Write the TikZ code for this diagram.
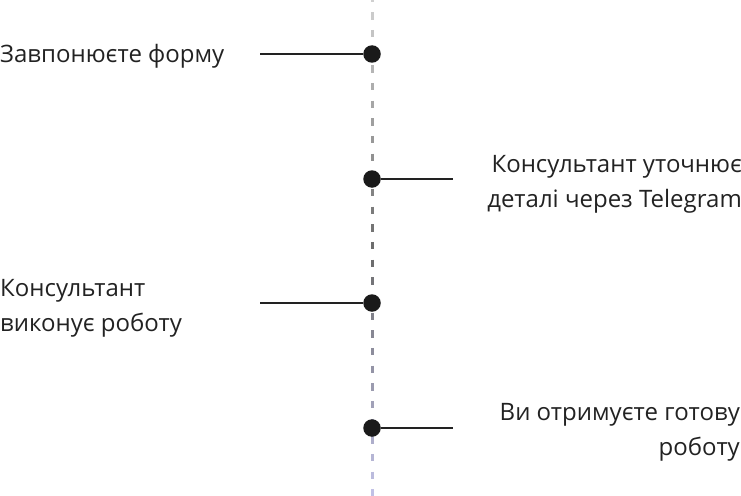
\documentclass[tikz,border=0pt]{standalone}
\usepackage{fontspec}
\setmainfont{Open Sans}
\definecolor{txt}{HTML}{222222}
\definecolor{dotc}{HTML}{1A1A1A}
\definecolor{topc}{HTML}{D0D0D0}
\definecolor{midc}{HTML}{6A6A6A}
\definecolor{botc}{HTML}{C4C4EA}
\tikzset{
  dotnode/.style={circle,fill=dotc,inner sep=0pt,minimum size=17.5pt},
  link/.style={draw=txt,line width=1.2pt},
  lbl/.style={text=txt,inner sep=0pt,font=\fontsize{24}{35}\selectfont},
}
\begin{document}
\begin{tikzpicture}[x=1pt,y=-1pt]
\useasboundingbox (0,0) rectangle (741,495);
% dashed gradient line
\foreach \k in {0,...,28}{
  \pgfmathsetmacro\ya{-5.5+17.67*\k}
  \pgfmathsetmacro\yb{\ya+7.5}
  \pgfmathtruncatemacro\p{\ya<250 ? max(0,min(100,(1-\ya/250)*100)) : max(0,min(100,(\ya-250)/245*100))}
  \ifdim\ya pt<250pt
    \colorlet{dc}{topc!\p!midc}
  \else
    \colorlet{dc}{botc!\p!midc}
  \fi
  \draw[dc,line width=3pt] (372.5,\ya) -- (372.5,\yb);
}
% dots
\node[dotnode] (d1) at (372,54) {};
\node[dotnode] (d2) at (372,179) {};
\node[dotnode] (d3) at (372,303) {};
\node[dotnode] (d4) at (372,428) {};
% free ends
\coordinate (e1) at (260,54);
\coordinate (e2) at (453,179);
\coordinate (e3) at (260,303);
\coordinate (e4) at (453,428);
\draw[link] (e1) -- (d1);
\draw[link] (d2) -- (e2);
\draw[link] (e3) -- (d3);
\draw[link] (d4) -- (e4);
% labels
\node[lbl,anchor=base west] (t1) at (0,63) {Завпонюєте форму};
\node[lbl,anchor=east,align=right] (t2) at (742,184) {Консультант уточнює\\деталі через Telegram};
\node[lbl,anchor=west,align=left] (t3) at (0,308) {Консультант\\виконує роботу};
\node[lbl,anchor=east,align=right] (t4) at (740,432) {Ви отримуєте готову\\роботу};
\end{tikzpicture}
\end{document}
